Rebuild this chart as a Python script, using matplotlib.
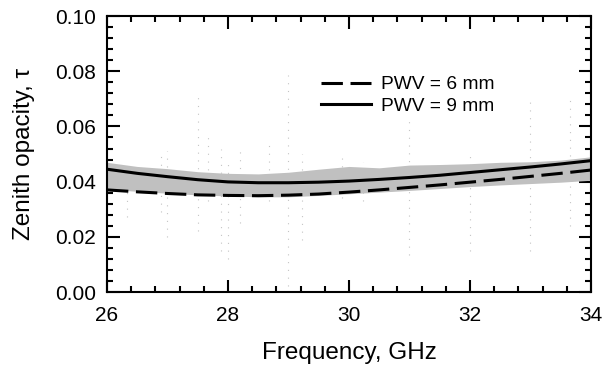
import numpy as np
import matplotlib.pyplot as plt

# model curves
freq = [26.0, 26.5, 27.0, 27.5, 28.0, 28.5, 29.0, 29.5, 30.0, 30.5,
        31.0, 31.5, 32.0, 32.5, 33.0, 33.5, 34.0]
tau_pwv9 = [0.0445, 0.0430, 0.0418, 0.0407, 0.0399, 0.0396, 0.0396, 0.0398, 0.0402, 0.0408,
            0.0415, 0.0423, 0.0433, 0.0443, 0.0453, 0.0464, 0.0476]
tau_pwv6 = [0.0370, 0.0363, 0.0357, 0.0352, 0.0350, 0.0349, 0.0351, 0.0355, 0.0362, 0.0370,
            0.0379, 0.0388, 0.0398, 0.0408, 0.0419, 0.0430, 0.0442]

# measured data band (upper / lower envelope)
band_hi = [0.0470, 0.0455, 0.0447, 0.0436, 0.0430, 0.0428, 0.0434, 0.0445, 0.0455, 0.0450,
           0.0460, 0.0462, 0.0465, 0.0470, 0.0472, 0.0478, 0.0490]
band_lo = [0.0372, 0.0365, 0.0358, 0.0352, 0.0348, 0.0345, 0.0345, 0.0350, 0.0356, 0.0362,
           0.0368, 0.0375, 0.0382, 0.0388, 0.0393, 0.0398, 0.0405]

# outlier spikes in the measured data
spike_f = [26.33, 26.9, 27.0, 27.5, 27.67, 27.88, 28.0, 28.2, 28.68, 29.0,
           29.22, 29.88, 30.23, 30.99, 32.0, 32.99, 33.65]
spike_top = [0.046, 0.051, 0.051, 0.071, 0.056, 0.052, 0.047, 0.053, 0.055, 0.0786,
             0.050, 0.050, 0.047, 0.062, 0.050, 0.069, 0.0706]
spike_bot = [0.027, 0.029, 0.020, 0.022, 0.033, 0.015, 0.012, 0.025, 0.033, 0.002,
             0.019, 0.034, 0.033, 0.0134, 0.015, 0.015, 0.024]

plt.rcParams['font.family'] = ['Liberation Sans', 'DejaVu Sans']

fig = plt.figure(figsize=(6.03, 3.65), dpi=100)
ax = fig.add_axes([0.1774, 0.2, 0.8026, 0.756])

ax.vlines(spike_f, spike_bot, spike_top, colors='#c4c4c4', linestyles=(0, (1, 6)),
          linewidth=0.8, zorder=1)
ax.fill_between(freq, band_lo, band_hi, color='#c0c0c0', lw=0, zorder=2)

ax.plot(freq, tau_pwv6, color='black', lw=2.2, dashes=(7, 2.5), label='PWV = 6 mm', zorder=3)
ax.plot(freq, tau_pwv9, color='black', lw=2.2, label='PWV = 9 mm', zorder=3)

ax.set_xlim(26, 34)
ax.set_ylim(0, 0.10)
ax.set_xticks(np.arange(26, 34.1, 2))
ax.set_xticks(np.arange(26, 34.01, 0.4), minor=True)
ax.set_yticks(np.arange(0, 0.101, 0.02))
ax.set_yticks(np.arange(0, 0.1001, 0.004), minor=True)
ax.yaxis.set_major_formatter(plt.FormatStrFormatter('%.2f'))

ax.tick_params(which='both', direction='in', top=True, right=True, width=1.5, labelsize=15)
ax.tick_params(which='major', length=9)
ax.tick_params(which='minor', length=4.5)
ax.tick_params(axis='x', pad=10)
ax.tick_params(axis='y', pad=8)
for s in ax.spines.values():
    s.set_linewidth(1.5)

ax.set_xlabel('Frequency, GHz', fontsize=17.5, labelpad=12)
ax.set_ylabel('Zenith opacity, τ', fontsize=17.5, labelpad=14)

ax.legend(loc='upper left', bbox_to_anchor=(0.422, 0.818), frameon=False, fontsize=13.8,
          handlelength=2.6, handletextpad=0.55, labelspacing=0.2, borderpad=0)

fig.savefig('out.png', dpi=100)
